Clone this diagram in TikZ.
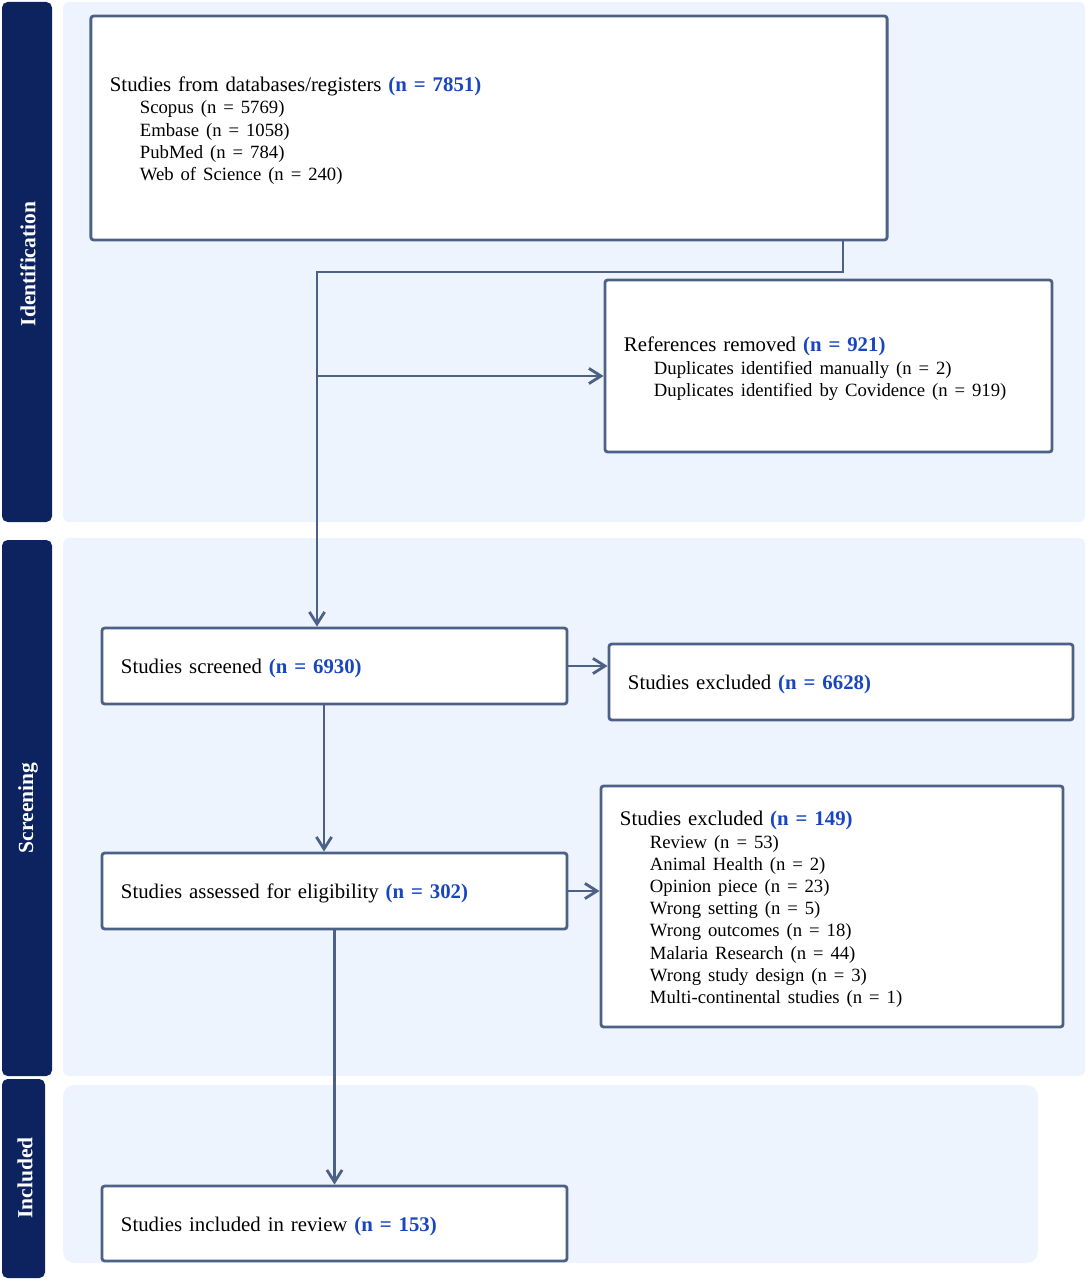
\documentclass[tikz,border=0pt]{standalone}
\usepackage{fontspec}
\setmainfont{Liberation Serif}
\usetikzlibrary{arrows.meta,positioning}

\definecolor{navy}{RGB}{12,35,96}
\definecolor{panel}{RGB}{238,244,253}
\definecolor{edge}{RGB}{77,97,134}
\definecolor{nblue}{RGB}{24,70,192}
\newcommand{\nn}[1]{\textcolor{nblue}{\textbf{(n = #1)}}}
\newcommand{\ind}[1]{\hspace*{0.75cm}{\fontsize{13.3}{15.8}\selectfont #1}}

\begin{document}
\begin{tikzpicture}[x=0.025cm,y=-0.025cm,
  caja/.style={draw=edge,line width=2pt,fill=white,rounded corners=2pt,
    align=left,inner xsep=0.475cm,font=\fontsize{14.8}{15.8}\selectfont,
    execute at begin node={\rule{0pt}{14.5pt}}},
  flecha/.style={draw=edge,line width=2pt,-{Straight Barb[length=0.3cm,width=0.38cm]}},
  fase/.style={rotate=90,text=white,font=\fontsize{15.3}{17}\selectfont\bfseries}]
  \useasboundingbox (0,0) rectangle (1088,1280);

  % Fondos
  \fill[panel,rounded corners=4pt] (63,2) rectangle (1085,522);
  \fill[panel,rounded corners=4pt] (63,538) rectangle (1085,1076);
  \fill[panel,rounded corners=8pt] (63,1085) rectangle (1038,1263);

  % Barras laterales
  \fill[navy,rounded corners=4pt] (2,2) rectangle (52,522);
  \fill[navy,rounded corners=4pt] (2,540) rectangle (52,1076);
  \fill[navy,rounded corners=4pt] (2,1079) rectangle (45,1278);
  \node[fase] (lblid) at (28,264) {Identification};
  \node[fase] (lblscr) at (28,808) {Screening};
  \node[fase] (lblinc) at (25,1178) {Included};

  % Cajas
  \node[caja,text width=18.95cm,minimum height=5.6cm] (srcbox) at (489,128)
    {Studies from databases/registers \nn{7851}\\
     \ind{Scopus (n = 5769)}\\
     \ind{Embase (n = 1058)}\\
     \ind{PubMed (n = 784)}\\
     \ind{Web of Science (n = 240)}};
  \node[caja,text width=10.225cm,minimum height=4.3cm] (rembox) at (828.5,366)
    {References removed \nn{921}\\
     \ind{Duplicates identified manually (n = 2)}\\
     \ind{Duplicates identified by Covidence (n = 919)}};
  \node[caja,text width=10.675cm,minimum height=1.9cm] (scrbox) at (334.5,666)
    {Studies screened \nn{6930}};
  \node[caja,text width=10.65cm,minimum height=1.9cm] (exc1box) at (841,682)
    {Studies excluded \nn{6628}};
  \node[caja,text width=10.675cm,minimum height=1.9cm] (eligbox) at (334.5,891)
    {Studies assessed for eligibility \nn{302}};
  \node[caja,text width=10.6cm,minimum height=6.025cm] (exc2box) at (832,906.5)
    {Studies excluded \nn{149}\\
     \ind{Review (n = 53)}\\
     \ind{Animal Health (n = 2)}\\
     \ind{Opinion piece (n = 23)}\\
     \ind{Wrong setting (n = 5)}\\
     \ind{Wrong outcomes (n = 18)}\\
     \ind{Malaria Research (n = 44)}\\
     \ind{Wrong study design (n = 3)}\\
     \ind{Multi-continental studies (n = 1)}};
  \node[caja,text width=10.675cm,minimum height=1.875cm] (incbox) at (334.5,1223.5)
    {Studies included in review \nn{153}};

  % Conectores
  \coordinate (j1) at (843,272);
  \coordinate (j2) at (317,272);
  \coordinate (j3) at (317,376);
  \coordinate (a2) at (324,0);
  \draw[flecha] (srcbox.south -| j1) -- (j1) -- (j2) -- (j2 |- scrbox.north);
  \draw[flecha] (j3) -- (j3 -| rembox.west);
  \draw[flecha] (scrbox.east) -- (scrbox.east -| exc1box.west);
  \draw[flecha] (scrbox.south -| a2) -- (eligbox.north -| a2);
  \draw[flecha] (eligbox.east) -- (eligbox.east -| exc2box.west);
  \draw[flecha] (eligbox.south) -- (incbox.north);
\end{tikzpicture}
\end{document}
